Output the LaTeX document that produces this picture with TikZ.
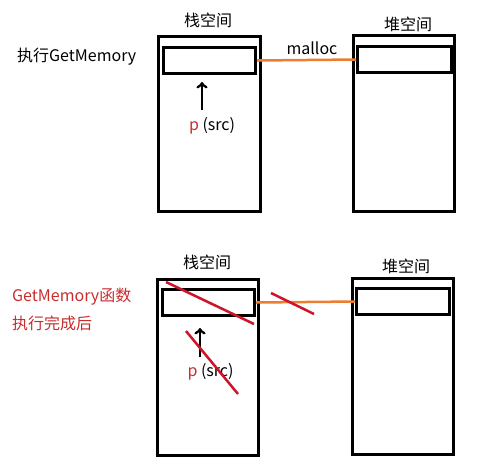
\documentclass[tikz,border=0pt]{standalone}
\usepackage{fontspec}
\setmainfont{Noto Sans CJK SC}
\usetikzlibrary{arrows}

\definecolor{linkorange}{RGB}{237,125,49}
\definecolor{crossred}{RGB}{205,20,40}
\definecolor{textred}{RGB}{200,45,45}

\tikzset{
  mem/.style={draw, line width=3pt, inner sep=0pt},
  lbl/.style={inner sep=0pt, font=\fontsize{16}{19}\selectfont},
  link/.style={draw=linkorange, line width=2.5pt},
  cross/.style={draw=crossred, line width=2.5pt},
  ptr/.style={-to, line width=2.8pt}
}

\begin{document}
\begin{tikzpicture}[x=1pt,y=-1pt]
\useasboundingbox (0,0) rectangle (484,475);

% before
\node [mem, minimum width=102pt, minimum height=175pt] (stack1) at (209.5,124) {};
\node [mem, minimum width=92pt, minimum height=26pt] (cell1) at (209.5,60.5) {};
\node [mem, minimum width=101pt, minimum height=176pt] (heap1) at (404,123.5) {};
\node [mem, minimum width=94pt, minimum height=26pt] (hcell1) at (404.5,59.5) {};

\node [lbl] (st1) at (208,20) {栈空间};
\node [lbl] (hp1) at (408,24) {堆空间};
\node [lbl, anchor=west] (run1) at (17,57) {执行GetMemory};
\node [lbl] (mal1) at (312,48) {malloc};
\node [lbl] (p1) at (212,126) {\textcolor{textred}{p} (src)};

\draw [link] (cell1.east) -- (hcell1.west);
\coordinate (t1) at (202,110);
\coordinate (h1) at (202,82);
\draw [ptr] (t1) -- (h1);

% after
\node [mem, minimum width=101pt, minimum height=176pt] (stack2) at (208,367.5) {};
\node [mem, minimum width=92pt, minimum height=26pt] (cell2) at (208.5,302.5) {};
\node [mem, minimum width=101pt, minimum height=176pt] (heap2) at (403,366.5) {};
\node [mem, minimum width=93pt, minimum height=26pt] (hcell2) at (403,301.5) {};

\node [lbl] (st2) at (207,262) {栈空间};
\node [lbl] (hp2) at (406,266) {堆空间};
\node [lbl, anchor=west, text=textred] (run2) at (12,297) {GetMemory函数};
\node [lbl, anchor=west, text=textred] (done2) at (12,323) {执行完成后};
\node [lbl] (p2) at (210.5,372) {\textcolor{textred}{p} (src)};

\draw [link] (cell2.east) -- (hcell2.west);
\coordinate (t2) at (200,357);
\coordinate (h2) at (200,328);
\draw [ptr] (t2) -- (h2);

%\draw [cross] (cell2.north west) -- (cell2.south east);
\coordinate (x1) at (166,282);
\coordinate (x2) at (254,324);
\draw [cross] (x1) -- (x2);
\coordinate (x3) at (186,331);
\coordinate (x4) at (238,394);
\draw [cross] (x3) -- (x4);
\coordinate (x5) at (271,293);
\coordinate (x6) at (314,314);
\draw [cross] (x5) -- (x6);
\end{tikzpicture}
\end{document}
